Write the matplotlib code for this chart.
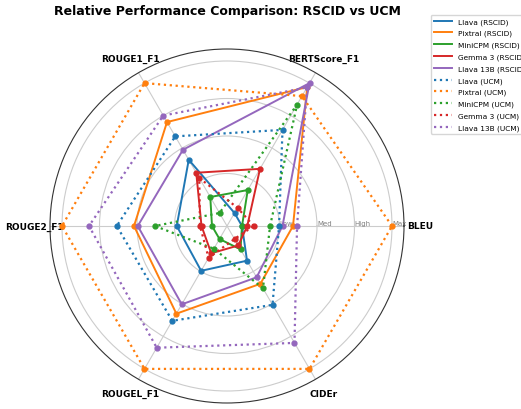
import numpy as np
import matplotlib
matplotlib.use('Agg')
import matplotlib.pyplot as plt

# metric axes (counter-clockwise from the right)
metrics = ['BLEU', 'BERTScore_F1', 'ROUGE1_F1', 'ROUGE2_F1', 'ROUGEL_F1', 'CIDEr']
models = ['Llava', 'Pixtral', 'MiniCPM', 'Gemma 3', 'Llava 13B']
colors = ['#1f77b4', '#ff7f0e', '#2ca02c', '#d62728', '#9467bd']

# normalised scores (0 = worst, 1 = best per metric)
llava_rscid = [0.0, 0.0, 0.41, 0.235, 0.245, 0.167]
pixtral_rscid = [0.34, 0.97, 0.70, 0.52, 0.575, 0.345]
minicpm_rscid = [0.0, 0.177, 0.123, 0.0, 0.0, 0.08]
gemma_rscid = [0.035, 0.34, 0.31, 0.07, 0.11, 0.05]
llava13b_rscid = [0.27, 1.0, 0.487, 0.495, 0.503, 0.295]

llava_ucm = [0.247, 0.64, 0.59, 0.635, 0.63, 0.507]
pixtral_ucm = [1.0, 0.9, 1.0, 1.0, 1.0, 1.0]
minicpm_ucm = [0.187, 0.835, 0.0, 0.38, 0.075, 0.38]
gemma_ucm = [0.078, 0.04, 0.27, 0.08, 0.145, 0.0]
llava13b_ucm = [0.367, 0.967, 0.75, 0.82, 0.837, 0.8]

rscid = [llava_rscid, pixtral_rscid, minicpm_rscid, gemma_rscid, llava13b_rscid]
ucm = [llava_ucm, pixtral_ucm, minicpm_ucm, gemma_ucm, llava13b_ucm]

level_ticks = [0.25, 0.5, 0.75, 1.0]
level_labels = ['Low', 'Med', 'High', 'Max']

angles = np.linspace(0, 2 * np.pi, len(metrics), endpoint=False)
closed = np.append(angles, angles[0])

fig = plt.figure(figsize=(5.21, 4.10), dpi=100)
ax = fig.add_axes([50 / 521, 6 / 410, 354 / 521, 354 / 410], projection='polar')

# lines carry the legend labels, dots are drawn separately
for name, vals, c in zip(models, rscid, colors):
    v = vals + vals[:1]
    ax.plot(closed, v, '-', color=c, lw=1.4, label=f'{name} (RSCID)')
    ax.plot(angles, vals, 'o', color=c, ms=3.5)
for name, vals, c in zip(models, ucm, colors):
    v = vals + vals[:1]
    ax.plot(closed, v, ':', color=c, lw=1.6, label=f'{name} (UCM)')
    ax.plot(angles, vals, 'o', color=c, ms=3.5)

ax.set_ylim(-0.1, 1.08)
ax.set_yticks(level_ticks)
ax.set_yticklabels(level_labels, fontsize=5, color='gray')
ax.set_rlabel_position(0)
ax.set_xticks(angles)
ax.set_xticklabels(metrics, fontsize=6.5, fontweight='bold')
ax.tick_params(axis='x', pad=1)
ax.grid(color='#cccccc', lw=0.8)
ax.spines['polar'].set_color('#333333')
ax.spines['polar'].set_linewidth(0.8)

fig.text(227 / 521, 1 - 11 / 410, 'Relative Performance Comparison: RSCID vs UCM',
         ha='center', va='center', fontsize=9, fontweight='bold')

fig.legend(loc='upper left', bbox_to_anchor=(431 / 521, 1 - 16 / 410), fontsize=5.3,
           handlelength=2.5, labelspacing=0.7, borderaxespad=0)

fig.savefig('out.png', dpi=100)
